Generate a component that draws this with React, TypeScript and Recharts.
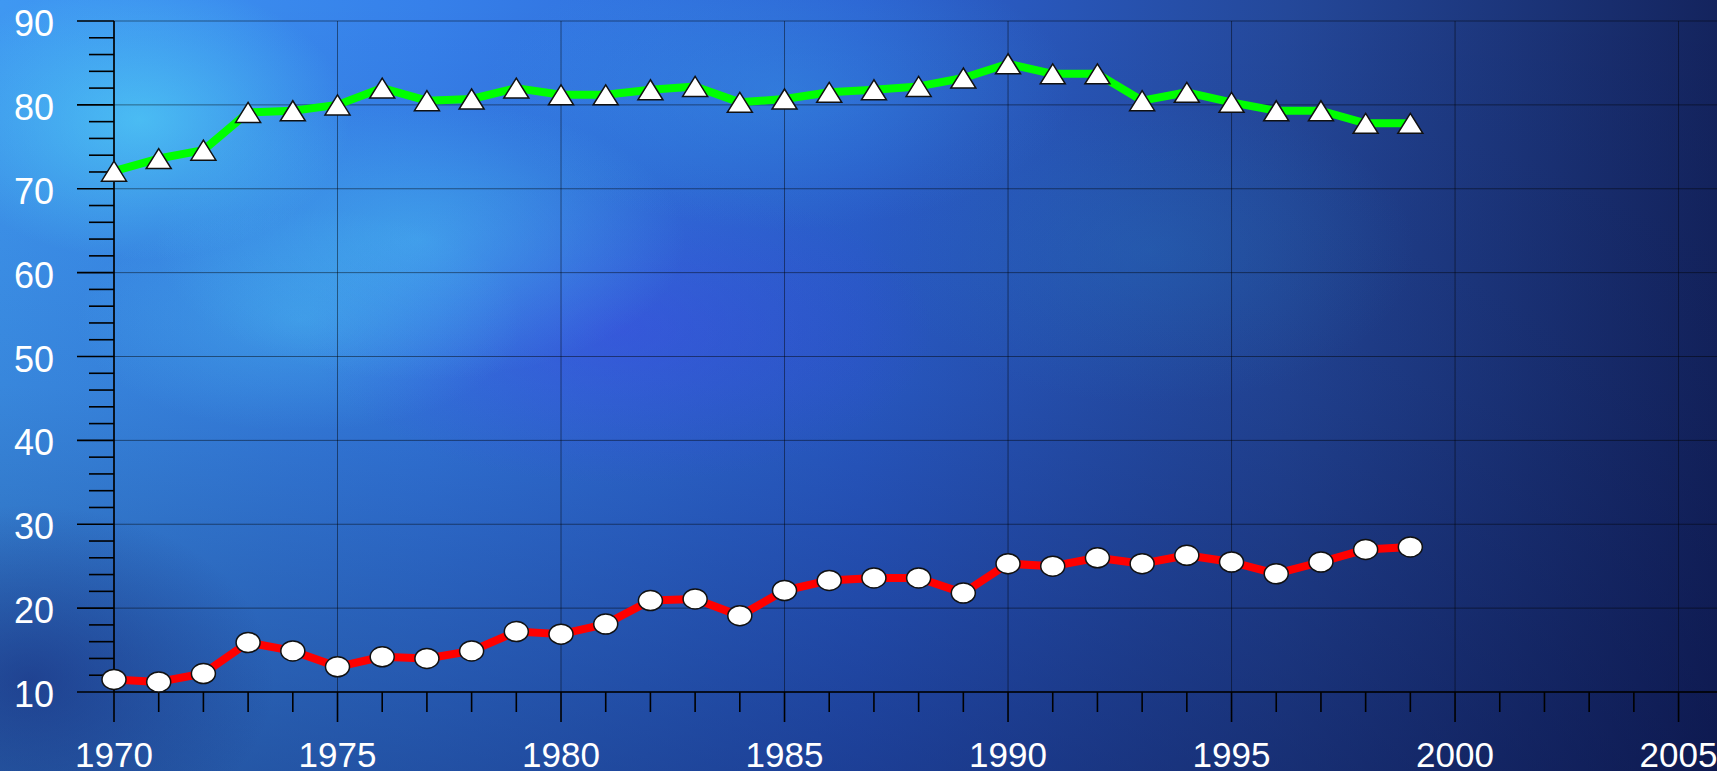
import { ComposedChart, Line, Scatter, XAxis, YAxis, CartesianGrid } from 'recharts';

const years = [
  1970, 1971, 1972, 1973, 1974, 1975, 1976, 1977, 1978, 1979,
  1980, 1981, 1982, 1983, 1984, 1985, 1986, 1987, 1988, 1989,
  1990, 1991, 1992, 1993, 1994, 1995, 1996, 1997, 1998, 1999,
];

const upperSeries = [
  72.1, 73.6, 74.6, 79.1, 79.3, 80.0, 82.0, 80.5, 80.7, 82.0,
  81.2, 81.2, 81.8, 82.2, 80.3, 80.7, 81.5, 81.8, 82.2, 83.2,
  84.9, 83.7, 83.7, 80.5, 81.5, 80.3, 79.3, 79.3, 77.8, 77.8,
];

const lowerSeries = [
  11.5, 11.2, 12.2, 15.9, 14.9, 13.0, 14.2, 14.0, 14.9, 17.2,
  16.9, 18.1, 20.9, 21.1, 19.1, 22.1, 23.3, 23.6, 23.6, 21.8,
  25.3, 25.0, 26.0, 25.3, 26.3, 25.5, 24.1, 25.5, 27.0, 27.3,
];

// every year gets a tick, labels only on the 5-year marks
const xTicks = [
  1970, 1971, 1972, 1973, 1974, 1975, 1976, 1977, 1978, 1979,
  1980, 1981, 1982, 1983, 1984, 1985, 1986, 1987, 1988, 1989,
  1990, 1991, 1992, 1993, 1994, 1995, 1996, 1997, 1998, 1999,
  2000, 2001, 2002, 2003, 2004, 2005,
];
const xLabels = [1970, 1975, 1980, 1985, 1990, 1995, 2000, 2005];

const yTicks = [
  10, 12, 14, 16, 18, 20, 22, 24, 26, 28, 30, 32, 34, 36, 38, 40, 42, 44, 46, 48,
  50, 52, 54, 56, 58, 60, 62, 64, 66, 68, 70, 72, 74, 76, 78, 80, 82, 84, 86, 88, 90,
];
const yLabels = [10, 20, 30, 40, 50, 60, 70, 80, 90];

const data = years.map((year, i) => ({ year, upper: upperSeries[i], lower: lowerSeries[i] }));

const font = '"Liberation Sans", Arial, sans-serif';

function XTick({ x, y, payload }: any) {
  const major = xLabels.includes(payload.value);
  return (
    <g>
      <line x1={x} x2={x} y1={y} y2={y + (major ? 30 : 20)} stroke="#000" strokeWidth={1.6} />
      {major && (
        <text x={x} y={y + 75} textAnchor="middle" fill="#fff" fontSize={35} fontFamily={font}>
          {payload.value}
        </text>
      )}
    </g>
  );
}

function YTick({ x, y, payload }: any) {
  const major = yLabels.includes(payload.value);
  return (
    <g>
      <line x1={x - (major ? 37 : 25)} x2={x} y1={y} y2={y} stroke="#000" strokeWidth={1.6} />
      {major && (
        <text x={x - 60} y={y + 15} textAnchor="end" fill="#fff" fontSize={36} fontFamily={font}>
          {payload.value}
        </text>
      )}
    </g>
  );
}

// markers are drawn by Scatter so they sit above the axes and ticks, like the original
function TriangleMark({ cx, cy }: any) {
  if (cx == null || cy == null) return <g />;
  return (
    <polygon
      points={`${cx},${cy - 10} ${cx - 12.5},${cy + 10} ${cx + 12.5},${cy + 10}`}
      fill="#fff"
      stroke="#111"
      strokeWidth={1.5}
    />
  );
}

function EllipseMark({ cx, cy }: any) {
  if (cx == null || cy == null) return <g />;
  return <ellipse cx={cx} cy={cy} rx={12} ry={10} fill="#fff" stroke="#111" strokeWidth={1.5} />;
}

const background = [
  'radial-gradient(ellipse 300px 200px at 140px 120px, rgba(85,220,250,0.6), rgba(85,220,250,0) 70%)',
  'radial-gradient(ellipse 380px 200px at 420px 240px, rgba(80,205,250,0.45), rgba(80,205,250,0) 70%)',
  'radial-gradient(ellipse 320px 160px at 300px 320px, rgba(80,200,250,0.35), rgba(80,200,250,0) 70%)',
  'radial-gradient(ellipse 450px 220px at 620px 330px, rgba(70,60,240,0.35), rgba(70,60,240,0) 70%)',
  'radial-gradient(ellipse 420px 200px at 780px 90px, rgba(60,170,240,0.3), rgba(60,170,240,0) 70%)',
  'radial-gradient(ellipse 380px 220px at 1150px 250px, rgba(40,130,200,0.25), rgba(40,130,200,0) 70%)',
  'radial-gradient(ellipse 350px 250px at 30px 680px, rgba(20,30,110,0.5), rgba(20,30,110,0) 70%)',
  'linear-gradient(to bottom, rgba(5,10,60,0) 0%, rgba(5,10,60,0.12) 50%, rgba(5,10,60,0.4) 100%)',
  'linear-gradient(to right, #3f98f2 0%, #3680ea 25%, #2c62d2 50%, #24489a 75%, #14245e 100%)',
].join(', ');

export default function App() {
  return (
    <div style={{ position: 'absolute', left: 0, top: 0, width: 1717, height: 771, overflow: 'hidden', background }}>
      <ComposedChart width={1717} height={771} data={data} margin={{ top: 21, right: 0, bottom: 0, left: 0 }}>
        <CartesianGrid
          stroke="#000"
          strokeOpacity={0.45}
          strokeWidth={1}
          horizontalValues={yLabels}
          verticalValues={xLabels}
        />
        <XAxis
          type="number"
          dataKey="year"
          domain={[1970, 2005.86]}
          ticks={xTicks}
          interval={0}
          height={79}
          tickSize={0}
          tickMargin={0}
          tickLine={false}
          axisLine={{ stroke: '#000', strokeWidth: 1.6 }}
          tick={<XTick />}
        />
        <YAxis
          type="number"
          domain={[10, 90]}
          ticks={yTicks}
          interval={0}
          width={114}
          tickSize={0}
          tickMargin={0}
          tickLine={false}
          axisLine={{ stroke: '#000', strokeWidth: 1.6 }}
          tick={<YTick />}
        />
        <Line
          type="linear"
          dataKey="upper"
          stroke="#00ff00"
          strokeWidth={8}
          strokeLinejoin="round"
          dot={false}
          activeDot={false}
          isAnimationActive={false}
          zIndex={2200}
        />
        <Line
          type="linear"
          dataKey="lower"
          stroke="#ff0000"
          strokeWidth={8}
          strokeLinejoin="round"
          dot={false}
          activeDot={false}
          isAnimationActive={false}
          zIndex={2200}
        />
        <Scatter dataKey="upper" shape={<TriangleMark />} isAnimationActive={false} zIndex={2500} />
        <Scatter dataKey="lower" shape={<EllipseMark />} isAnimationActive={false} zIndex={2500} />
      </ComposedChart>
    </div>
  );
}
